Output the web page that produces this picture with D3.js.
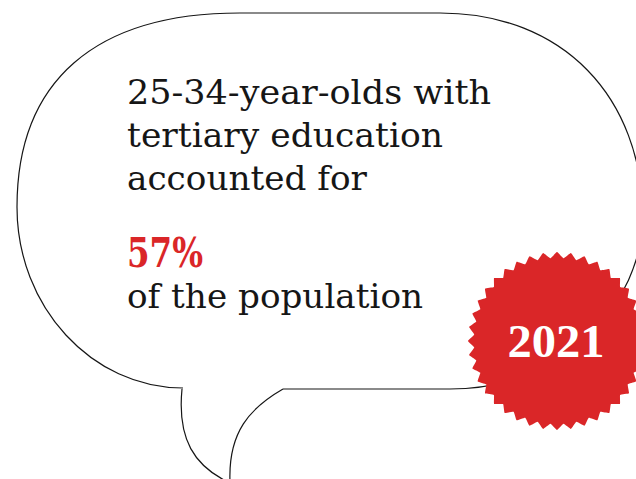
<!DOCTYPE html>
<html>
<head>
<meta charset="utf-8">
<script src="https://cdn.jsdelivr.net/npm/d3@7"></script>
<style>
  html, body { margin: 0; padding: 0; background: #ffffff; }
  svg { display: block; }
</style>
</head>
<body>
<svg id="chart" width="636" height="479"></svg>
<script>
// ---- data ----
const introLines = ["25-34-year-olds with", "tertiary education", "accounted for"];
const shareValues = [57];
const shareLabels = ["57%"];
const outroLines = ["of the population"];
const years = ["2021"];

const W = 636, H = 479;
const svg = d3.select("#chart");
const ink = "#161616";
const red = "#da2628";
const serif = "'DejaVu Serif', 'Liberation Serif', serif";

// ---- speech bubble ----
const bubble = d3.path();
bubble.moveTo(183, 388);
bubble.bezierCurveTo(92, 388, 17, 307, 17, 207);
bubble.bezierCurveTo(17, 81, 95, 13, 240, 13);
bubble.lineTo(440, 13);
bubble.bezierCurveTo(562, 13, 643, 96, 643, 220);
bubble.bezierCurveTo(640, 300, 570, 389, 450, 389);
bubble.lineTo(283, 389);
svg.append("path").attr("d", bubble.toString())
  .attr("fill", "none").attr("stroke", ink).attr("stroke-width", 1.2);

// tail
const tailL = d3.path();
tailL.moveTo(182, 389);
tailL.bezierCurveTo(177, 440, 195, 466, 228, 482);
const tailR = d3.path();
tailR.moveTo(283, 389);
tailR.bezierCurveTo(250, 408, 228, 432, 230, 482);
svg.append("path").attr("d", tailL.toString())
  .attr("fill", "none").attr("stroke", ink).attr("stroke-width", 1.2);
svg.append("path").attr("d", tailR.toString())
  .attr("fill", "none").attr("stroke", ink).attr("stroke-width", 1.2);

// ---- text ----
const tx = 127;
const introBase = d3.scaleLinear().domain([0, 1]).range([104, 147]);
const introWidths = [364, 316, 240];
svg.append("g").selectAll("text").data(introLines).join("text")
  .attr("x", tx).attr("y", (d, i) => introBase(i))
  .attr("font-family", serif).attr("font-size", 34)
  .attr("fill", ink)
  .attr("textLength", (d, i) => introWidths[i])
  .attr("lengthAdjust", "spacingAndGlyphs")
  .text(d => d);

svg.append("g").selectAll("text").data(shareValues).join("text")
  .attr("x", tx).attr("y", 267)
  .attr("font-family", serif).attr("font-size", 41).attr("font-weight", "bold")
  .attr("fill", red)
  .attr("textLength", 76).attr("lengthAdjust", "spacingAndGlyphs")
  .text((d, i) => shareLabels[i]);

svg.append("g").selectAll("text").data(outroLines).join("text")
  .attr("x", tx).attr("y", 308)
  .attr("font-family", serif).attr("font-size", 34)
  .attr("fill", ink)
  .attr("textLength", 296).attr("lengthAdjust", "spacingAndGlyphs")
  .text(d => d);

// ---- badge ----
const cx = 557, cy = 341, rOuter = 89, rInner = 83, teeth = 40;
const angle = d3.scaleLinear().domain([0, teeth * 2]).range([0, 2 * Math.PI]);
const pts = d3.range(teeth * 2).map(i => [angle(i), i % 2 === 0 ? rOuter : rInner]);
const radial = d3.lineRadial().angle(d => d[0]).radius(d => d[1])
  .curve(d3.curveCardinalClosed.tension(0.7));
svg.append("path")
  .attr("transform", `translate(${cx},${cy})`)
  .attr("d", radial(pts))
  .attr("fill", red);

svg.append("g").selectAll("text").data(years).join("text")
  .attr("x", cx - 1).attr("y", 357)
  .attr("text-anchor", "middle")
  .attr("font-family", "'Liberation Serif', 'DejaVu Serif', serif")
  .attr("font-size", 47).attr("font-weight", "bold")
  .attr("fill", "#ffffff")
  .attr("textLength", 97).attr("lengthAdjust", "spacingAndGlyphs")
  .text(d => d);
</script>
</body>
</html>
